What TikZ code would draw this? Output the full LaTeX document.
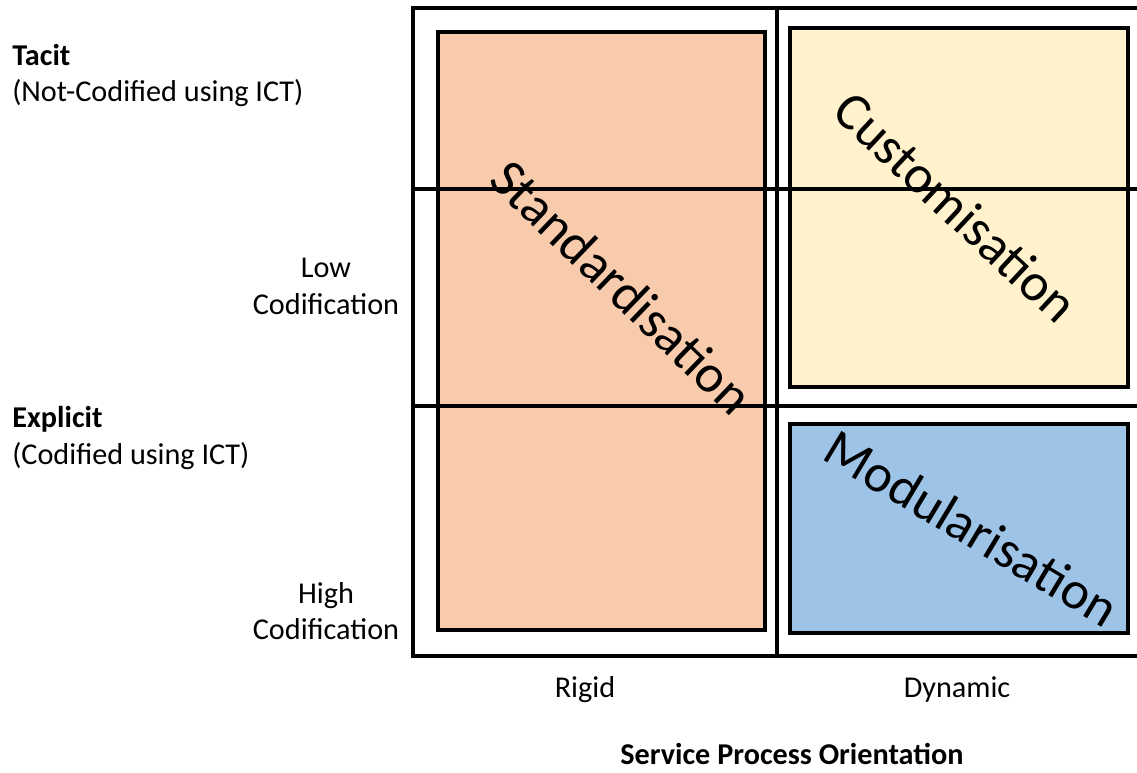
\documentclass[tikz,border=0pt]{standalone}
\usepackage{fontspec}
\setmainfont{Carlito}
\definecolor{stdfill}{HTML}{F8CBAD}
\definecolor{custfill}{HTML}{FFF2CC}
\definecolor{modfill}{HTML}{9DC3E6}
\begin{document}
\begin{tikzpicture}[
		box/.style={draw=black,line width=2.4pt},
		grid/.style={line width=2.2pt},
		bigtext/.style={font=\fontsize{38}{40}\selectfont,inner sep=0pt},
		axis/.style={font=\fontsize{21.5}{25}\selectfont,inner sep=0pt}]
	\useasboundingbox (0,0) rectangle (28.425,19.325);
	% three strategy boxes
	\filldraw[box,fill=stdfill] (10.95,3.575) rectangle (19.125,18.525);
	\filldraw[box,fill=custfill] (19.75,9.65) rectangle (28.2,18.625);
	\filldraw[box,fill=modfill] (19.75,3.5) rectangle (28.2,8.725);
	% frame and divisions
	\draw[grid] (28.6,19.125)--(10.325,19.125)--(10.325,2.925)--(28.6,2.925);
	\draw[grid] (19.425,19.125)--(19.425,2.925);
	\draw[grid] (10.325,14.6)--(28.6,14.6);
	\draw[grid] (10.325,9.175)--(28.6,9.175);
	\node[bigtext,rotate=-44] (std) at (15.55,12.15) {Standardisation};
	\node[bigtext,rotate=-43] (cust) at (23.9,14.15) {Customisation};
	\node[bigtext,rotate=-31] (mod) at (24.3,6.125) {Modularisation};
	% knowledge axis
	\node[axis,anchor=base west] (tacit) at (0.3,17.675) {\bfseries Tacit};
	\node[axis,anchor=base west] (tacitsub) at (0.3,16.775) {(Not-Codified using ICT)};
	\node[axis,anchor=base west] (expl) at (0.3,8.625) {\bfseries Explicit};
	\node[axis,anchor=base west] (explsub) at (0.3,7.7) {(Codified using ICT)};
	\node[axis,anchor=base] (low) at (8.15,12.375) {Low};
	\node[axis,anchor=base] (lowcod) at (8.15,11.45) {Codification};
	\node[axis,anchor=base] (high) at (8.15,4.225) {High};
	\node[axis,anchor=base] (highcod) at (8.15,3.325) {Codification};
	% process axis
	\node[axis,anchor=base] (rigid) at (14.625,1.875) {Rigid};
	\node[axis,anchor=base] (dyn) at (23.925,1.875) {Dynamic};
	\node[axis,anchor=base] (spo) at (19.8,0.2) {\bfseries Service Process Orientation};
\end{tikzpicture}
\end{document}
